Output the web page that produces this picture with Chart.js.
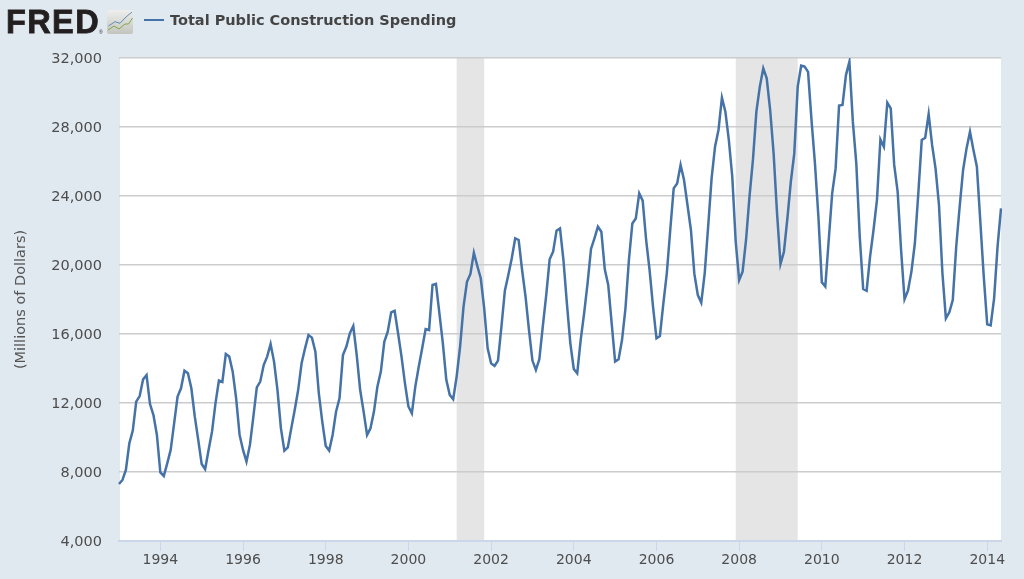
<!DOCTYPE html>
<html>
<head>
<meta charset="utf-8">
<title>Total Public Construction Spending</title>
<script src="https://cdn.jsdelivr.net/npm/chart.js@4"></script>
<style>
    body { margin: 0; background: #e1e9f0; }
    #wrap { position: relative; width: 1024px; height: 579px; overflow: hidden; }
    #logo { position: absolute; left: 6px; top: 3px; font: bold 32.5px/38px "Liberation Sans"; letter-spacing: 1.4px; color: #231f20; -webkit-text-stroke: 0.8px #231f20; }
    #reg { position: absolute; left: 99px; top: 29px; font: 5px/6px "Liberation Sans"; color: #231f20; }
    #icon { position: absolute; left: 106.5px; top: 10px; }
    #swatch { position: absolute; left: 144px; top: 19px; width: 20px; height: 2px; background: #4572a7; }
    #seriesName { position: absolute; left: 170px; top: 11px; font: bold 14.5px/18px "DejaVu Sans"; color: #444; }
    canvas { position: absolute; left: 0; top: 0; }
</style>
</head>
<body>
<div id="wrap">
    <canvas id="chart" width="1024" height="579"></canvas>
    <div id="logo">FRED</div>
    <div id="reg">®</div>
    <svg id="icon" width="27" height="24">
        <defs>
            <linearGradient id="g" x1="0" y1="0" x2="0" y2="1">
                <stop offset="0" stop-color="#eeeeec"/>
                <stop offset="1" stop-color="#c4c4be"/>
            </linearGradient>
        </defs>
        <rect width="26" height="24" rx="2" fill="url(#g)"/>
        <polyline points="1.5,16 8,11.7 13,13.3 19,7 25,2" fill="none" stroke="#5b8db8" stroke-width="1"/>
        <polyline points="1,20 7,16 12,19 18,14 21.5,14 25.5,8" fill="none" stroke="#7fa648" stroke-width="1"/>
    </svg>
    <div id="swatch"></div>
    <div id="seriesName"></div>
</div>
<script>
const seriesLabel = "Total Public Construction Spending";
const yTitle = "(Millions of Dollars)";

// monthly values, Jan 1993 on, one row per year
const spending = [
    7300, 7540, 8120, 9660, 10400, 12080, 12400, 13370, 13620, 11940, 11300, 10150,
    7980, 7770, 8500, 9280, 10820, 12370, 12850, 13870, 13720, 12850, 11210, 9860,
    8460, 8160, 9280, 10340, 11980, 13300, 13220, 14840, 14690, 13820, 12270, 10150,
    9280, 8600, 9570, 11210, 12910, 13240, 14200, 14690, 15420, 14400, 12750, 10530,
    9240, 9430, 10530, 11600, 12750, 14300, 15170, 15940, 15790, 14980, 12560, 10920,
    9510, 9240, 10150, 11500, 12270, 14780, 15270, 16040, 16460, 14780, 12750, 11500,
    10150, 10530, 11500, 12950, 13820, 15550, 16130, 17260, 17350, 16040, 14690, 13140,
    11800, 11400, 12950, 14100, 15170, 16290, 16230, 18840, 18900, 17200, 15460, 13340,
    12470, 12220, 13530, 15270, 17590, 19030, 19480, 20710, 19940, 19230, 17490, 15170,
    14300, 14150, 14460, 16430, 18510, 19420, 20390, 21546, 21450, 19710, 18160, 16230,
    14460, 13915, 14530, 16430, 18260, 20330, 20770, 21990, 22125, 20290, 17780, 15460,
    13970, 13720, 15650, 17200, 18940, 20930, 21550, 22220, 21930, 19750, 18840, 16620,
    14400, 14530, 15650, 17490, 20290, 22410, 22700, 24150, 23730, 21450, 19710, 17590,
    15750, 15885, 17780, 19520, 22030, 24440, 24730, 25798, 24930, 23480, 22030, 19480,
    18260, 17820, 19520, 22220, 25025, 26860, 27830, 29700, 28890, 27250, 25120, 21350,
    19130, 19616, 21450, 23960, 26090, 28890, 30340, 31400, 30820, 28985, 26470, 22990,
    20060, 20770, 22700, 24830, 26470, 30340, 31555, 31500, 31200, 28400, 25890, 22800,
    19000, 18750, 21450, 24150, 25600, 29240, 29280, 31010, 31790, 28310, 25890, 21640,
    18610, 18510, 20490, 22030, 23770, 27280, 26860, 29410, 29080, 25800, 24250, 20870,
    18010, 18510, 19616, 21260, 24150, 27250, 27380, 28750, 26960, 25600, 23480, 19520,
    16910, 17260, 17970, 21060, 23380, 25510, 26760, 27730, 26670, 25700, 22510, 19320,
    16560, 16500, 18070, 21060, 23280
];

const months = spending.map((v, i) => {
    const m = i % 12 + 1;
    return (1993 + Math.floor(i / 12)) + "-" + (m < 10 ? "0" + m : m);
});

const xTicks = ["1994-01", "1996-01", "1998-01", "2000-01", "2002-01", "2004-01", "2006-01", "2008-01", "2010-01", "2012-01", "2014-01"];
const yTicks = [4000, 8000, 12000, 16000, 20000, 24000, 28000, 32000];

const recessionStart = ["2001-03", "2007-12"];
const recessionEnd = ["2001-11", "2009-06"];

document.getElementById("seriesName").textContent = seriesLabel;

// white plot area and the grey recession bands, under the grid
const plotBackground = {
    id: "plotBackground",
    beforeDraw(chart) {
        const { ctx, chartArea, scales } = chart;
        ctx.save();
        ctx.fillStyle = "#ffffff";
        ctx.fillRect(chartArea.left + 1, chartArea.top, chartArea.width - 1, chartArea.height);
        ctx.fillStyle = "#e5e5e5";
        recessionStart.forEach((start, i) => {
            const x0 = scales.x.getPixelForValue(months.indexOf(start));
            const x1 = scales.x.getPixelForValue(months.indexOf(recessionEnd[i]));
            ctx.fillRect(x0, chartArea.top, x1 - x0, chartArea.height);
        });
        ctx.restore();

        // y labels sit a little below their grid lines in the original
        const y = scales.y;
        const drawLabels = y.drawLabels;
        y.drawLabels = function (area) {
            ctx.save();
            ctx.translate(0, 1);
            drawLabels.call(y, area);
            ctx.restore();
        };
    }
};

new Chart(document.getElementById("chart"), {
    type: "line",
    plugins: [plotBackground],
    data: {
        labels: months,
        datasets: [{
            label: seriesLabel,
            data: spending,
            borderColor: "#4572a7",
            borderWidth: 2.5,
            pointRadius: 0,
            tension: 0
        }]
    },
    options: {
        responsive: false,
        animation: false,
        layout: { padding: { top: 58, right: 23 } },
        plugins: {
            legend: { display: false },
            tooltip: { enabled: false }
        },
        scales: {
            x: {
                offset: false,
                afterBuildTicks(scale) {
                    scale.ticks = xTicks.map(t => ({ value: months.indexOf(t) }));
                },
                afterFit(scale) {
                    scale.height = 38;
                },
                ticks: {
                    autoSkip: false,
                    maxRotation: 0,
                    padding: 1,
                    color: "#4d4d4d",
                    font: { family: "DejaVu Sans", size: 14 },
                    callback(value) {
                        return months[value].slice(0, 4);
                    }
                },
                grid: {
                    drawOnChartArea: false,
                    tickLength: 10,
                    tickColor: "#ccd6eb"
                },
                border: { color: "#ccd6eb", width: 2 }
            },
            y: {
                min: 4000,
                max: 32000,
                afterBuildTicks(scale) {
                    scale.ticks = yTicks.map(v => ({ value: v }));
                },
                afterFit(scale) {
                    scale.width = 119;
                },
                title: {
                    display: true,
                    text: yTitle,
                    color: "#555555",
                    padding: { top: 13, bottom: 0 },
                    font: { family: "DejaVu Sans", size: 14.5 }
                },
                ticks: {
                    padding: 17,
                    color: "#4d4d4d",
                    font: { family: "DejaVu Sans", size: 14.5 },
                    callback(value) {
                        return value.toLocaleString("en-US");
                    }
                },
                grid: {
                    color: "#cccccc",
                    lineWidth: 1.5,
                    drawTicks: false
                },
                border: { display: false }
            }
        }
    }
});
</script>
</body>
</html>
